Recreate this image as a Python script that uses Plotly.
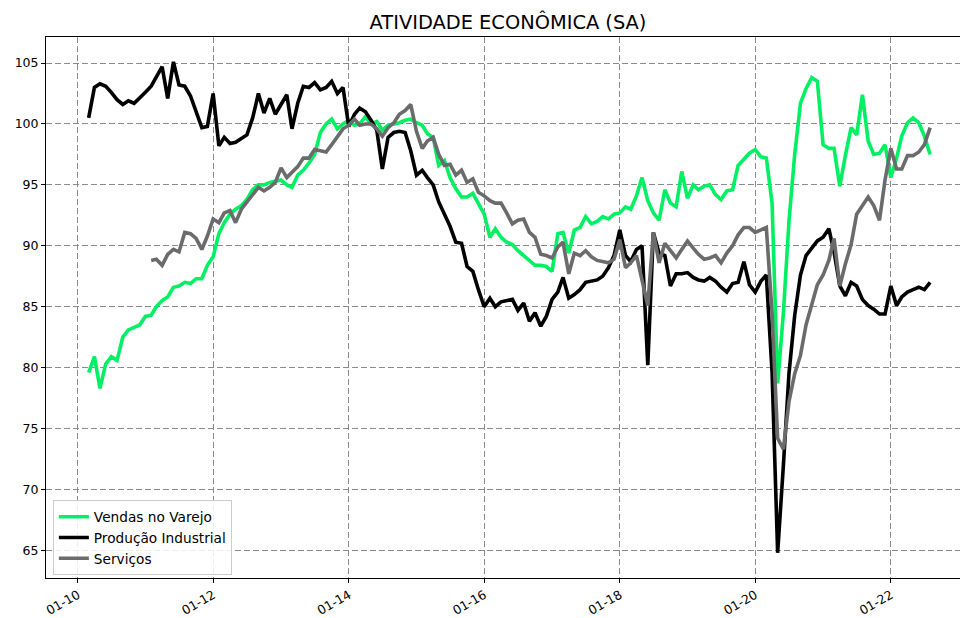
import pandas as pd
import plotly.graph_objects as go

# ---- data (monthly, seasonally adjusted indices) ----
varejo = [
    # 2010 (Feb-Dec)
    79.6, 80.9, 78.3, 80.3, 80.9, 80.6, 82.5, 83.1, 83.3, 83.5, 84.2,
    # 2011
    84.3, 85.0, 85.5, 85.8, 86.6, 86.7, 87.0, 86.9, 87.3, 87.3, 88.4, 89.1,
    # 2012
    91.0, 91.9, 92.6, 93.0, 93.3, 93.8, 94.6, 95.0, 95.0, 95.2, 95.3, 95.4,
    # 2013
    95.0, 94.8, 95.8, 96.2, 96.8, 97.5, 99.3, 100.0, 100.4, 99.6, 100.0, 100.3,
    # 2014
    99.9, 100.0, 100.6, 100.0, 100.2, 99.5, 99.9, 100.0, 100.1, 100.3, 100.4, 100.1,
    # 2015
    99.9, 99.2, 98.9, 96.6, 97.0, 95.6, 94.7, 94.0, 94.0, 94.3, 93.5, 92.6,
    # 2016
    90.7, 91.4, 90.7, 90.3, 90.1, 89.6, 89.2, 88.8, 88.4, 88.4, 88.3, 87.9,
    # 2017
    91.0, 91.1, 89.4, 91.3, 91.5, 92.4, 91.8, 92.0, 92.4, 92.2, 92.6, 92.7,
    # 2018
    93.2, 93.0, 94.1, 95.6, 93.7, 92.7, 92.1, 94.6, 93.5, 93.2, 96.1, 93.9,
    # 2019
    95.0, 94.6, 94.9, 95.0, 94.2, 93.8, 94.5, 94.6, 96.6, 97.1, 97.6, 97.9,
    # 2020
    97.3, 97.2, 93.5, 78.7, 84.5, 92.0, 97.5, 101.7, 102.9, 103.8, 103.5, 98.3,
    # 2021
    98.0, 98.0, 94.9, 97.4, 99.7, 99.1, 102.4, 98.6, 97.5, 97.6, 98.3, 95.6,
    # 2022 (Jan-Jul)
    97.2, 99.0, 100.1, 100.5, 100.1, 99.0, 97.5,
]

industria = [
    # 2010 (Feb-Dec)
    100.5, 103.0, 103.3, 103.1, 102.6, 102.0, 101.6, 101.9, 101.7, 102.1, 102.6,
    # 2011
    103.1, 103.9, 104.7, 102.1, 105.1, 103.2, 103.1, 102.3, 101.0, 99.7, 99.8, 102.5,
    # 2012
    98.2, 98.9, 98.4, 98.5, 98.8, 99.1, 100.5, 102.5, 100.9, 102.1, 100.8, 101.6,
    # 2013
    102.4, 99.6, 101.7, 103.1, 103.0, 103.4, 102.8, 103.0, 103.5, 102.5, 103.0, 99.8,
    # 2014
    100.8, 101.3, 101.0, 100.3, 99.5, 96.3, 98.9, 99.3, 99.4, 99.3, 97.8, 95.8,
    # 2015
    96.2, 95.6, 95.0, 93.6, 92.5, 91.6, 90.3, 90.2, 88.3, 87.9, 86.4, 85.0,
    # 2016
    85.7, 85.0, 85.4, 85.5, 85.6, 84.7, 85.3, 83.8, 84.5, 83.4, 84.2, 85.6,
    # 2017
    86.2, 87.4, 85.7, 86.0, 86.4, 87.0, 87.1, 87.2, 87.5, 88.2, 89.2, 91.3,
    # 2018
    89.2, 88.7, 89.7, 90.0, 80.2, 91.1, 89.4, 89.2, 86.7, 87.7, 87.7, 87.8,
    # 2019
    87.4, 87.2, 87.1, 87.4, 87.1, 86.6, 86.2, 86.9, 87.0, 88.7, 86.8, 86.2,
    # 2020
    87.1, 87.6, 79.6, 64.8, 72.0, 79.5, 84.3, 87.6, 89.2, 89.8, 90.4, 90.7,
    # 2021
    91.4, 89.5, 86.7, 85.9, 87.0, 86.7, 85.6, 85.1, 84.8, 84.4, 84.4, 86.7,
    # 2022 (Jan-Jul)
    85.1, 85.8, 86.2, 86.4, 86.6, 86.4, 87.0,
]

servicos = [
    # 2011
    88.8, 88.9, 88.4, 89.3, 89.7, 89.5, 91.1, 91.0, 90.6, 89.7, 90.8, 92.2,
    # 2012
    91.9, 92.7, 92.9, 91.9, 93.0, 93.6, 94.1, 94.8, 94.5, 94.8, 95.2, 96.4,
    # 2013
    95.6, 96.0, 96.5, 97.2, 97.2, 97.9, 97.8, 97.7, 98.3, 98.9, 99.6, 99.9,
    # 2014
    100.4, 99.9, 100.0, 100.0, 99.6, 99.0, 99.7, 100.1, 100.8, 101.1, 101.6, 99.4,
    # 2015
    98.0, 98.6, 98.9, 97.5, 96.6, 96.7, 95.8, 96.2, 95.2, 95.5, 94.4, 94.1,
    # 2016
    93.7, 93.5, 93.5, 92.7, 91.8, 92.1, 92.2, 91.1, 90.7, 89.3, 89.2, 89.0,
    # 2017
    89.9, 90.3, 87.7, 89.4, 89.2, 89.6, 89.1, 88.8, 88.7, 88.6, 88.9, 90.5,
    # 2018
    88.2, 88.6, 89.2, 87.1, 85.1, 91.1, 88.6, 90.2, 89.6, 89.0, 89.7, 90.4,
    # 2019
    89.8, 89.3, 88.9, 89.0, 89.2, 88.6, 89.4, 90.0, 90.9, 91.5, 91.5, 91.1,
    # 2020
    91.3, 91.5, 84.5, 74.2, 73.3, 77.2, 79.5, 81.0, 83.5, 85.3, 86.8, 87.6,
    # 2021
    88.8, 90.6, 86.7, 88.5, 90.1, 92.6, 93.3, 94.0, 93.3, 92.1, 95.4, 98.0,
    # 2022 (Jan-Jul)
    96.3, 96.3, 97.4, 97.4, 97.7, 98.3, 99.7,
]

tick_dates = ["2010-01-01", "2012-01-01", "2014-01-01", "2016-01-01",
              "2018-01-01", "2020-01-01", "2022-01-01"]
tick_text = ["01-10", "01-12", "01-14", "01-16", "01-18", "01-20", "01-22"]
y_ticks = [65, 70, 75, 80, 85, 90, 95, 100, 105]

series_names = ["Vendas no Varejo", "Produção Industrial", "Serviços"]
series_colors = ["#00f064", "#000000", "#6b6b6b"]


def month_ends(start, n):
    return pd.date_range(start, periods=n, freq="MS") + pd.offsets.MonthEnd(1)


dates_main = month_ends("2010-02-01", len(varejo))
dates_serv = month_ends("2011-01-01", len(servicos))

fig = go.Figure()
for name, xs, ys, color in [
    (series_names[0], dates_main, varejo, series_colors[0]),
    (series_names[1], dates_main, industria, series_colors[1]),
    (series_names[2], dates_serv, servicos, series_colors[2]),
]:
    fig.add_trace(go.Scatter(x=xs, y=ys, mode="lines", name=name,
                             line=dict(color=color, width=3.6)))

font_family = "DejaVu Sans"
fig.update_layout(
    width=960, height=618,
    margin=dict(l=46, r=0, t=37, b=38),
    paper_bgcolor="white", plot_bgcolor="white",
    font=dict(family=font_family, size=12.5, color="black"),
    title=dict(text="ATIVIDADE ECONÔMICA (SA)", x=0.5055, xref="paper",
               xanchor="center", y=1 - 22 / 618, yref="container", yanchor="middle",
               font=dict(family=font_family, size=19.4, color="black")),
    showlegend=True,
    legend=dict(x=0.0075, y=0.005, xanchor="left", yanchor="bottom",
                bgcolor="rgba(255,255,255,0.85)", bordercolor="#cccccc", borderwidth=1,
                font=dict(family=font_family, size=13.7, color="black"),
                tracegroupgap=0, itemwidth=30),
)
fig.update_xaxes(
    type="date", range=["2009-07-13", "2023-01-08"],
    tickvals=tick_dates, ticktext=tick_text, tickangle=-30,
    showgrid=True, gridcolor="#8a8a8a", gridwidth=1, griddash="6px,3px",
    ticks="outside", ticklen=4, tickcolor="black",
    showline=True, linecolor="black", linewidth=1, mirror=True,
    zeroline=False,
)
fig.update_yaxes(
    range=[62.73, 107.14], tickvals=y_ticks,
    showgrid=True, gridcolor="#8a8a8a", gridwidth=1, griddash="6px,3px",
    ticks="outside", ticklen=4, tickcolor="black",
    showline=True, linecolor="black", linewidth=1, mirror=False,
    zeroline=False,
)

fig.write_html("out.html",
               config={"displayModeBar": False},
               post_script="document.body.style.margin='0';document.body.style.overflow='hidden';")
